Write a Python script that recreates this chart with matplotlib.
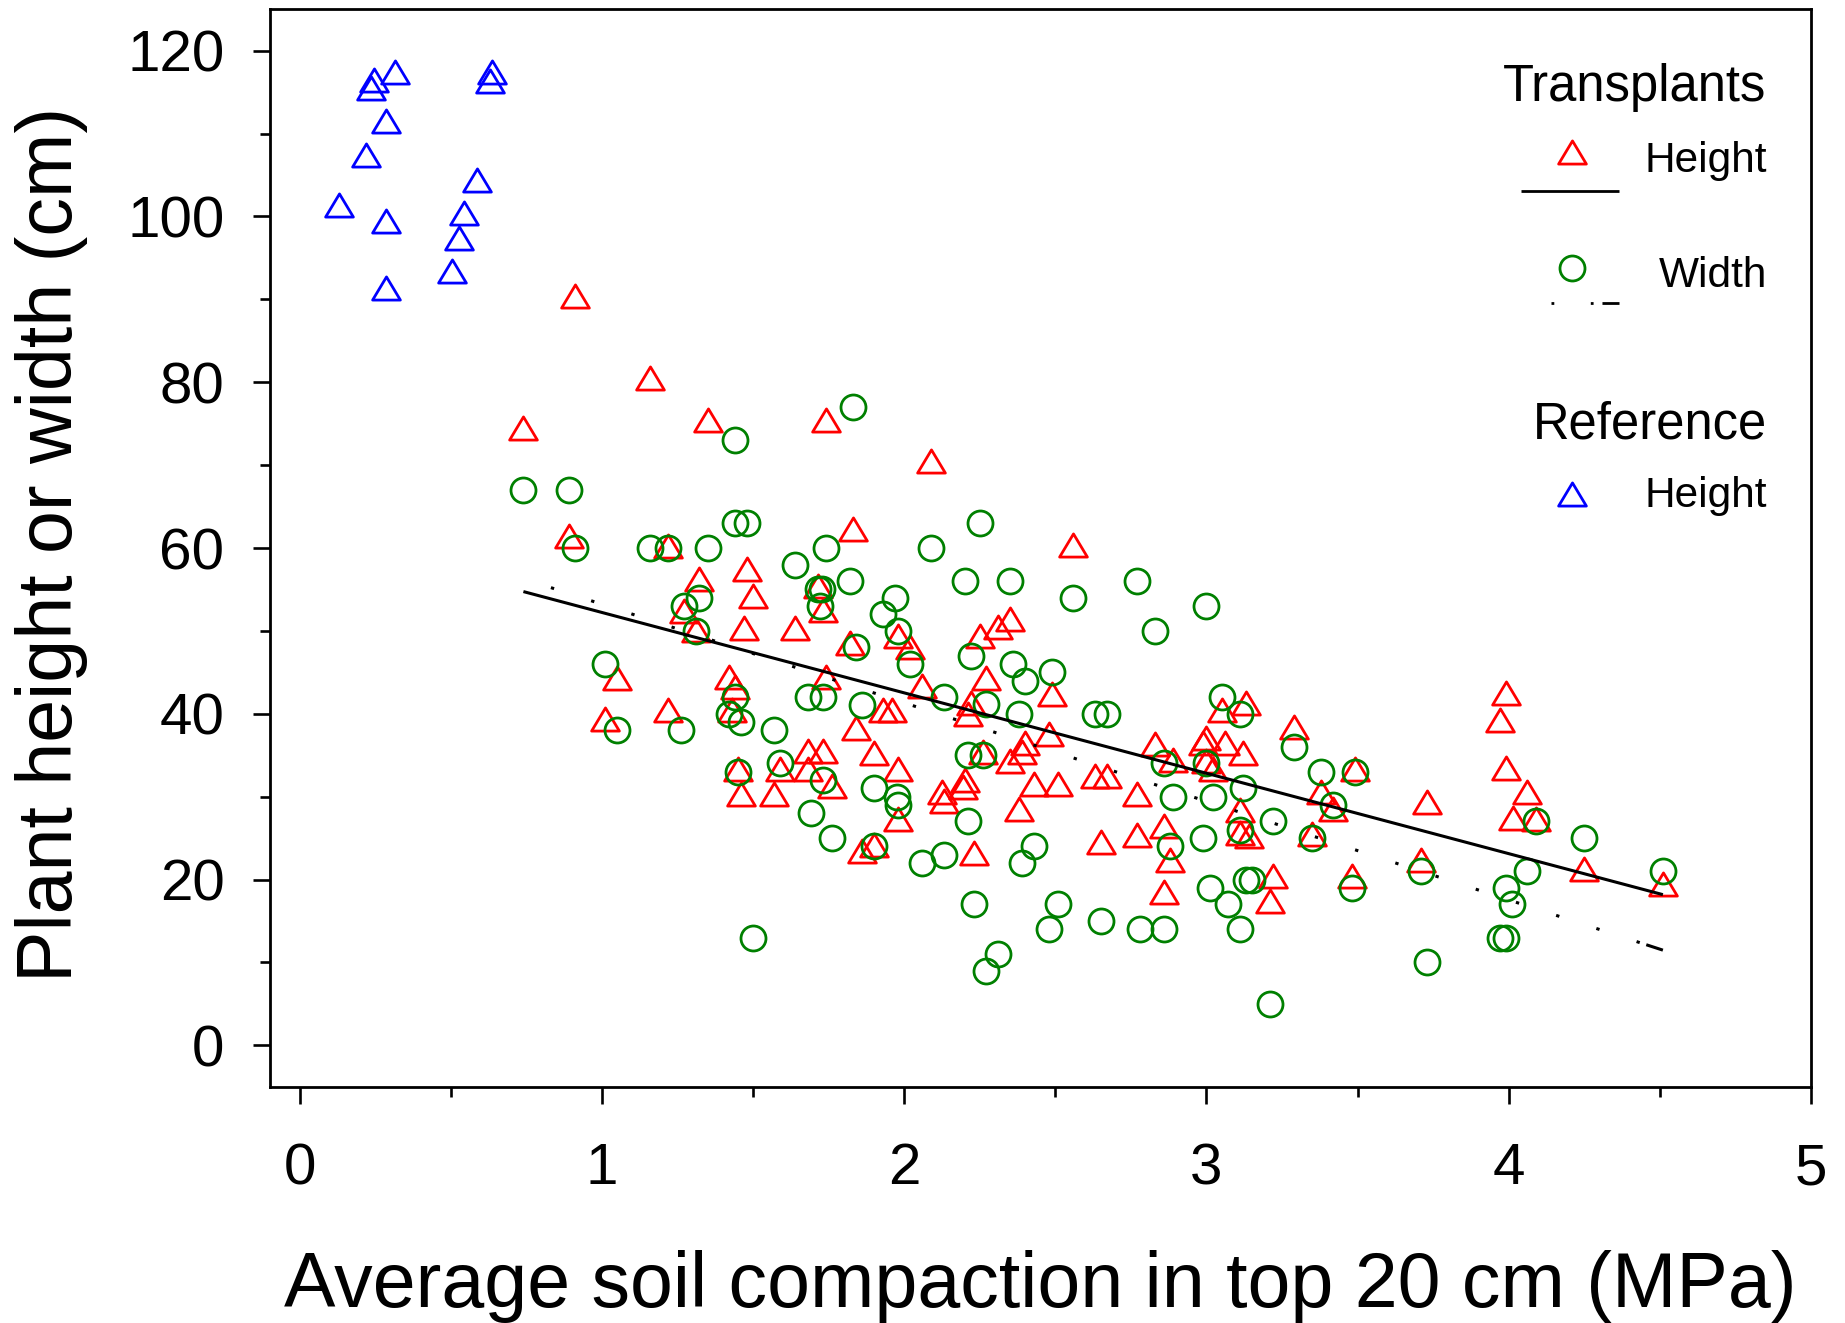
import numpy as np
import matplotlib
matplotlib.use("Agg")
import matplotlib.pyplot as plt
from matplotlib.path import Path
from matplotlib.markers import MarkerStyle
from matplotlib.lines import Line2D
from matplotlib.ticker import MultipleLocator

plt.rcParams['font.family'] = ['Liberation Sans', 'DejaVu Sans']
plt.rcParams['lines.scale_dashes'] = False

# ---------------- data ----------------
# Reference plants: height
ref_x = [0.13, 0.22, 0.235, 0.245, 0.314, 0.286, 0.286, 0.286, 0.504, 0.526, 0.542, 0.586, 0.628, 0.635]
ref_h = [101.4, 107.4, 115.5, 116.5, 117.4, 111.5, 99.4, 91.4, 93.4, 97.4, 100.4, 104.4, 116.4, 117.4]

# Transplants: height
tr_h_x = [0.91, 1.16, 0.74, 1.35, 1.74, 0.89, 1.22, 2.09, 1.83, 2.56,
          1.48, 1.32, 1.50, 1.27, 1.31, 1.47, 1.64, 1.715, 1.73, 1.98,
          2.02, 1.82, 2.25, 2.31, 2.35, 2.27, 2.49, 2.22, 2.21, 2.48,
          2.40, 2.39, 2.35, 2.43, 2.51, 2.38, 2.26, 2.20, 2.195, 2.125,
          2.13, 2.23, 1.86, 1.90, 1.98, 2.06, 1.93, 1.96, 1.84, 1.90,
          1.98, 1.74, 1.42, 1.44, 1.43, 1.05, 1.01, 1.22, 1.68, 1.73,
          1.68, 1.76, 1.59, 1.45, 1.46, 1.57, 2.63, 2.67, 2.77, 2.83,
          2.89, 2.65, 2.77, 2.86, 2.88, 2.86, 3.22, 3.21, 4.25, 4.51,
          3.99, 3.97, 3.99, 4.06, 4.015, 4.09, 3.73, 3.71, 3.48, 3.49,
          3.29, 3.38, 3.42, 3.35, 3.11, 3.14, 3.11, 3.13, 3.05, 3.00,
          2.99, 3.06, 3.12, 3.02, 3.00]
tr_h_y = [90.4, 80.5, 74.5, 75.5, 75.5, 61.4, 60.3, 70.5, 62.3, 60.4,
          57.5, 56.2, 54.2, 52.4, 50.1, 50.3, 50.3, 55.4, 52.5, 49.4,
          48.1, 48.5, 49.4, 50.5, 51.4, 44.3, 42.4, 41.3, 40.0, 37.5,
          36.5, 35.4, 34.3, 31.5, 31.5, 28.5, 35.4, 32.0, 31.2, 30.5,
          29.5, 23.2, 23.4, 24.2, 27.3, 43.3, 40.4, 40.4, 38.3, 35.3,
          33.3, 44.4, 44.4, 43.2, 40.4, 44.3, 39.4, 40.4, 35.5, 35.5,
          33.3, 31.3, 33.3, 33.3, 30.3, 30.3, 32.5, 32.5, 30.3, 36.3,
          34.4, 24.5, 25.4, 26.5, 22.3, 18.5, 20.4, 17.4, 21.3, 19.4,
          42.5, 39.3, 33.4, 30.5, 27.4, 27.3, 29.4, 22.3, 20.4, 33.3,
          38.4, 30.5, 28.5, 25.5, 25.6, 25.3, 28.4, 41.3, 40.4, 37.1,
          36.5, 36.5, 35.3, 33.3, 34.3]

# Transplants: width
tr_w_x = [1.44, 1.83, 0.74, 0.89, 0.91, 1.16, 1.22, 1.35, 1.44, 1.48,
          2.25, 1.74, 2.09, 1.64, 1.82, 2.20, 2.35, 2.56, 1.716, 1.728,
          1.72, 1.32, 1.27, 1.31, 1.97, 1.93, 1.98, 2.02, 1.84, 2.22,
          2.36, 2.40, 2.49, 2.27, 2.38, 2.21, 2.26, 2.21, 2.43, 2.39,
          2.23, 2.51, 2.48, 2.31, 2.27, 1.50, 2.06, 2.13, 1.90, 1.76,
          1.69, 1.98, 1.975, 1.90, 2.13, 1.86, 1.68, 1.73, 1.44, 1.42,
          1.46, 1.57, 1.01, 1.05, 1.26, 1.73, 1.59, 1.45, 2.77, 3.00,
          2.83, 2.63, 2.67, 2.86, 2.89, 2.88, 2.65, 2.78, 2.86, 2.99,
          3.01, 3.07, 3.11, 3.13, 3.15, 3.21, 3.73, 3.97, 3.99, 3.99,
          4.01, 4.06, 4.25, 4.51, 4.09, 3.71, 3.48, 3.49, 3.29, 3.38,
          3.42, 3.35, 3.22, 3.11, 3.12, 3.02, 3.05, 3.11, 3.00]
tr_w_y = [73.0, 77.0, 67.0, 67.0, 60.0, 60.0, 60.0, 60.0, 63.0, 63.0,
          63.0, 60.0, 60.0, 58.0, 56.0, 56.0, 56.0, 54.0, 55.0, 55.0,
          53.0, 54.0, 53.0, 50.0, 54.0, 52.0, 50.0, 46.0, 48.0, 47.0,
          46.0, 44.0, 45.0, 41.2, 40.0, 35.0, 35.0, 27.0, 24.0, 22.0,
          17.0, 17.0, 14.0, 11.0, 9.0, 13.0, 22.0, 23.0, 24.0, 25.0,
          28.0, 29.0, 30.0, 31.0, 42.0, 41.0, 42.0, 42.0, 42.0, 40.0,
          39.0, 38.0, 46.0, 38.0, 38.0, 32.0, 34.0, 33.0, 56.0, 53.0,
          50.0, 40.0, 40.0, 34.0, 30.0, 24.0, 15.0, 14.0, 14.0, 25.0,
          19.0, 17.0, 14.0, 20.0, 20.0, 5.0, 10.0, 13.0, 13.0, 19.0,
          17.0, 21.0, 25.0, 21.0, 27.0, 21.0, 19.0, 33.0, 36.0, 33.0,
          29.0, 25.0, 27.0, 26.0, 31.0, 30.0, 42.0, 40.0, 34.0]

# Regression lines (intercept, slope) and their x range
height_fit = (61.92, -9.70)
width_fit = (65.10, -11.89)
fit_range = (0.74, 4.51)

x_ticks = [0, 1, 2, 3, 4, 5]
y_ticks = [0, 20, 40, 60, 80, 100, 120]

# ---------------- figure ----------------
W, H = 1845, 1323
fig = plt.figure(figsize=(W / 100, H / 100), dpi=100)
L, R, T, B = 269.5, 1811.0, 9.3, 1086.7
ax = fig.add_axes([L / W, 1 - B / H, (R - L) / W, (B - T) / H])

tri_path = Path([(0, 0.5), (-0.6, -0.5), (0.6, -0.5), (0, 0.5)],
                [Path.MOVETO, Path.LINETO, Path.LINETO, Path.CLOSEPOLY])
tri = MarkerStyle(tri_path, joinstyle='miter')

RED, GREEN, BLUE = '#ff0000', '#008000', '#0000ff'
TRI_MS, CIR_MS, MEW = 20.0, 18.0, 2.0

ax.plot(tr_h_x, tr_h_y, ls='none', marker=tri, ms=TRI_MS, mfc='none', mec=RED, mew=MEW, zorder=3)
ax.plot(tr_w_x, tr_w_y, ls='none', marker='o', ms=CIR_MS, mfc='none', mec=GREEN, mew=MEW, zorder=4)
ax.plot(ref_x, ref_h, ls='none', marker=tri, ms=TRI_MS, mfc='none', mec=BLUE, mew=MEW, zorder=3)

xs = np.array(fit_range)
ax.plot(xs, height_fit[0] + height_fit[1] * xs, color='black', lw=2.2,
        solid_capstyle='butt', zorder=5)
ax.plot(xs, width_fit[0] + width_fit[1] * xs, color='black', lw=2.2,
        linestyle=(9.6, (2.4, 28.05)), dash_capstyle='butt', zorder=5)
xe = np.array([fit_range[1] - 0.055, fit_range[1]])
ax.plot(xe, width_fit[0] + width_fit[1] * xe, color='black', lw=2.2,
        solid_capstyle='butt', zorder=5)

ax.set_xlim(-0.1, 5)
ax.set_ylim(-5, 125)
ax.set_xticks(x_ticks)
ax.set_xticklabels([str(v) for v in x_ticks])
ax.set_yticks(y_ticks)
ax.set_yticklabels([str(v) for v in y_ticks])
ax.xaxis.set_minor_locator(MultipleLocator(0.5))
ax.yaxis.set_minor_locator(MultipleLocator(10))
ax.tick_params(which='major', direction='out', length=12, width=1.9, labelsize=42, colors='black')
ax.tick_params(which='minor', direction='out', length=7.2, width=1.9)
ax.tick_params(axis='x', which='major', pad=28)
ax.tick_params(axis='y', which='major', pad=20.4)
for s in ax.spines.values():
    s.set_linewidth(2.0)

ax.set_xlabel('Average soil compaction in top 20 cm (MPa)', fontsize=55.5)
ax.xaxis.set_label_coords(0.5, (B - 1306.7) / (B - T))
ax.xaxis.label.set_va('baseline')
ax.set_ylabel('Plant height or width (cm)', fontsize=55.5)
ax.yaxis.set_label_coords((71.5 - L) / (R - L), (B - 544.0) / (B - T))
ax.yaxis.label.set_va('baseline')

# ---------------- legend (drawn by hand, figure pixels) ----------------
def fx(px):
    return px / W

def fy(py):
    return 1 - py / H

TX = fx(1766.7)
fig.text(TX, fy(101.0), 'Transplants', ha='right', va='baseline', fontsize=36.5)
fig.text(TX, fy(171.7), 'Height', ha='right', va='baseline', fontsize=30.5)
fig.text(TX, fy(286.7), 'Width', ha='right', va='baseline', fontsize=30.5)
fig.text(TX, fy(438.3), 'Reference', ha='right', va='baseline', fontsize=36.5)
fig.text(TX, fy(507.0), 'Height', ha='right', va='baseline', fontsize=30.5)

MX = fx(1571.7)
fig.add_artist(Line2D([MX], [fy(152.0)], transform=fig.transFigure, ls='none', marker=tri,
                      ms=TRI_MS, mfc='none', mec=RED, mew=MEW))
fig.add_artist(Line2D([MX], [fy(267.7)], transform=fig.transFigure, ls='none', marker='o',
                      ms=CIR_MS, mfc='none', mec=GREEN, mew=MEW))
fig.add_artist(Line2D([MX], [fy(494.0)], transform=fig.transFigure, ls='none', marker=tri,
                      ms=TRI_MS, mfc='none', mec=BLUE, mew=MEW))
fig.add_artist(Line2D([fx(1520.7), fx(1619.3)], [fy(190.7), fy(190.7)], transform=fig.transFigure,
                      color='black', lw=2.0, solid_capstyle='butt'))
pat = (2.0, 26.3, 2.0, 6.4, 12.7, 50.0)
fig.add_artist(Line2D([fx(1520.7), fx(1619.3)], [fy(302.7), fy(302.7)], transform=fig.transFigure,
                      color='black', lw=2.0, linestyle=(sum(pat) - 21.6, pat), dash_capstyle='butt'))

fig.savefig('out.png', dpi=100)
